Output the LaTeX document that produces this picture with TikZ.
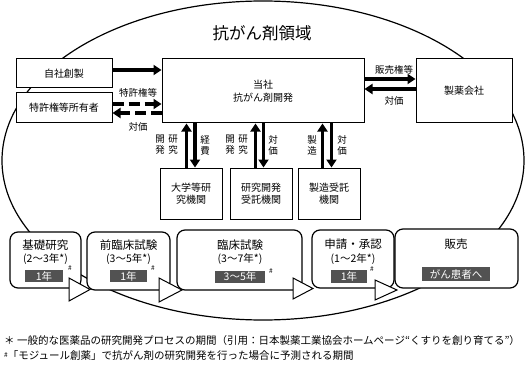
\documentclass[tikz,border=0pt]{standalone}
\usepackage{fontspec}
\setmainfont{Noto Sans CJK JP}
\usetikzlibrary{arrows.meta}
\begin{document}
\begin{tikzpicture}[x=1pt,y=-1pt,
  box/.style={draw, line width=1pt, fill=white, inner sep=0pt, align=center, font=\fontsize{10}{12.5}\selectfont},
  stage/.style={draw, line width=1.2pt, fill=white, rounded corners=8pt, inner sep=0pt},
  stitle/.style={inner sep=0pt, font=\fontsize{11.5}{12}\selectfont},
  ssub/.style={inner sep=0pt, font=\fontsize{10.5}{12}\selectfont},
  dark/.style={fill=black!68, text=white, inner sep=0pt, font=\fontsize{10.5}{11}\selectfont},
  hashmark/.style={inner sep=0pt, font=\fontsize{6.5}{6.5}\selectfont},
  arr/.style={line width=3.5pt, -{Triangle[length=8pt,width=10pt]}},
  darr/.style={arr, dash pattern=on 11pt off 5pt},
  lab/.style={inner sep=0pt, align=center, font=\fontsize{9.5}{11}\selectfont},
  tri/.style={draw, fill=white, line width=1pt, line join=miter},
  foot/.style={anchor=west, inner sep=0pt, font=\fontsize{10.5}{12}\selectfont}
]
\useasboundingbox (0,0) rectangle (528,369);

% outer domain
\draw[line width=1.2pt] (263,160.5) ellipse [x radius=261pt, y radius=159.5pt];
\node[inner sep=0pt, font=\fontsize{16.5}{18}\selectfont] (title) at (262,33) {抗がん剤領域};

% upper boxes
\node[box, minimum width=96pt, minimum height=29pt] (jisha) at (64,73.5) {自社創製};
\node[box, minimum width=96pt, minimum height=30pt] (tokkyo) at (64,108) {特許権等所有者};
\node[box, minimum width=202pt, minimum height=64pt] (tosha) at (263,91) {当社\\抗がん剤開発};
\node[box, minimum width=96pt, minimum height=64pt] (seiyaku) at (464,91) {製薬会社};

\node[box, minimum width=62pt, minimum height=51pt] (univ) at (191,193.5) {大学等研\\究機関};
\node[box, minimum width=62pt, minimum height=51pt] (cro) at (261,193.5) {研究開発\\受託機関};
\node[box, minimum width=62pt, minimum height=51pt] (cmo) at (329,193.5) {製造受託\\機関};

% horizontal connectors
\draw[arr] (jisha.east |- 0,70) -- (tosha.west |- 0,70);
\draw[darr] (tokkyo.east |- 0,104) -- (tosha.west |- 0,104);
\draw[darr] (tosha.west |- 0,113) -- (tokkyo.east |- 0,113);
\node[lab] (lpat) at (138,93) {特許権等};
\node[lab] (lpay1) at (138,127) {対価};

\draw[arr] (tosha.east |- 0,79) -- (seiyaku.west |- 0,79);
\draw[arr] (seiyaku.west |- 0,89) -- (tosha.east |- 0,89);
\node[lab] (lsale) at (394,70) {販売権等};
\node[lab] (lpay2) at (394,101) {対価};

% vertical connectors
\draw[arr] (univ.north -| 186.5,0) -- (tosha.south -| 186.5,0);
\draw[arr] (tosha.south -| 195,0) -- (univ.north -| 195,0);
\draw[arr] (cro.north -| 255.5,0) -- (tosha.south -| 255.5,0);
\draw[arr] (tosha.south -| 263.5,0) -- (cro.north -| 263.5,0);
\draw[arr] (cmo.north -| 322.5,0) -- (tosha.south -| 322.5,0);
\draw[arr] (tosha.south -| 331.5,0) -- (cmo.north -| 331.5,0);

\node[lab] (v1a) at (160,145) {開\\発};
\node[lab] (v1b) at (173,145) {研\\究};
\node[lab] (v1c) at (205,145) {経\\費};
\node[lab] (v2a) at (230,145) {開\\発};
\node[lab] (v2b) at (243,145) {研\\究};
\node[lab] (v2c) at (273,145) {対\\価};
\node[lab] (v3a) at (312,145) {製\\造};
\node[lab] (v3b) at (342,145) {対\\価};

% stages
\node[stage, minimum width=71pt, minimum height=56pt] (kiso) at (45.5,260) {};
\node[stage, minimum width=83pt, minimum height=58pt] (zenrin) at (128.5,261) {};
\node[stage, minimum width=125pt, minimum height=60pt] (rinsho) at (239.5,260) {};
\node[stage, minimum width=82pt, minimum height=58pt] (shinsei) at (353,259) {};
\node[stage, minimum width=123pt, minimum height=59pt] (hanbai) at (456.5,258.5) {};

\node[stitle] (kisoT) at (45.5,245) {基礎研究};
\node[ssub] (kisoS) at (45.5,259) {(2～3年*)};
\node[dark, minimum width=38pt, minimum height=12pt] (kisoD) at (44,276) {1年};
\node[hashmark] (kisoH) at (70,268) {\#};

\node[stitle] (zenT) at (128.5,245) {前臨床試験};
\node[ssub] (zenS) at (128.5,259) {(3～5年*)};
\node[dark, minimum width=37pt, minimum height=12pt] (zenD) at (128.5,276) {1年};
\node[hashmark] (zenH) at (153,268) {\#};

\node[stitle] (rinT) at (240,245) {臨床試験};
\node[ssub] (rinS) at (240,259) {(3～7年*)};
\node[dark, minimum width=50pt, minimum height=12pt] (rinD) at (240,276.5) {3～5年};
\node[hashmark] (rinH) at (271,271) {\#};

\node[stitle] (shinT) at (353,244) {申請・承認};
\node[ssub] (shinS) at (353,259) {(1～2年*)};
\node[dark, minimum width=36pt, minimum height=13pt] (shinD) at (349,276) {1年};
\node[hashmark] (shinH) at (372,269) {\#};

\node[stitle] (hanT) at (456,244) {販売};
\node[dark, minimum width=68pt, minimum height=14pt] (hanD) at (456,274) {がん患者へ};

% flow triangles between stages
\draw[tri] (69,278) -- (90,289.5) -- (69,301) -- cycle;
\draw[tri] (159,278) -- (182,290) -- (159,302) -- cycle;
\draw[tri] (293,278) -- (313,288.5) -- (293,299) -- cycle;
\draw[tri] (375,280) -- (397,290) -- (375,300) -- cycle;

% footnotes
\node[foot] (fn1) at (4,341) {＊ 一般的な医薬品の研究開発プロセスの期間（引用：日本製薬工業協会ホームページ“くすりを創り育てる”）};
\node[foot] (fn2) at (4,356) {{\fontsize{6.5}{6.5}\selectfont\raisebox{2.5pt}{\#}}「モジュール創薬」で抗がん剤の研究開発を行った場合に予測される期間};
\end{tikzpicture}
\end{document}
